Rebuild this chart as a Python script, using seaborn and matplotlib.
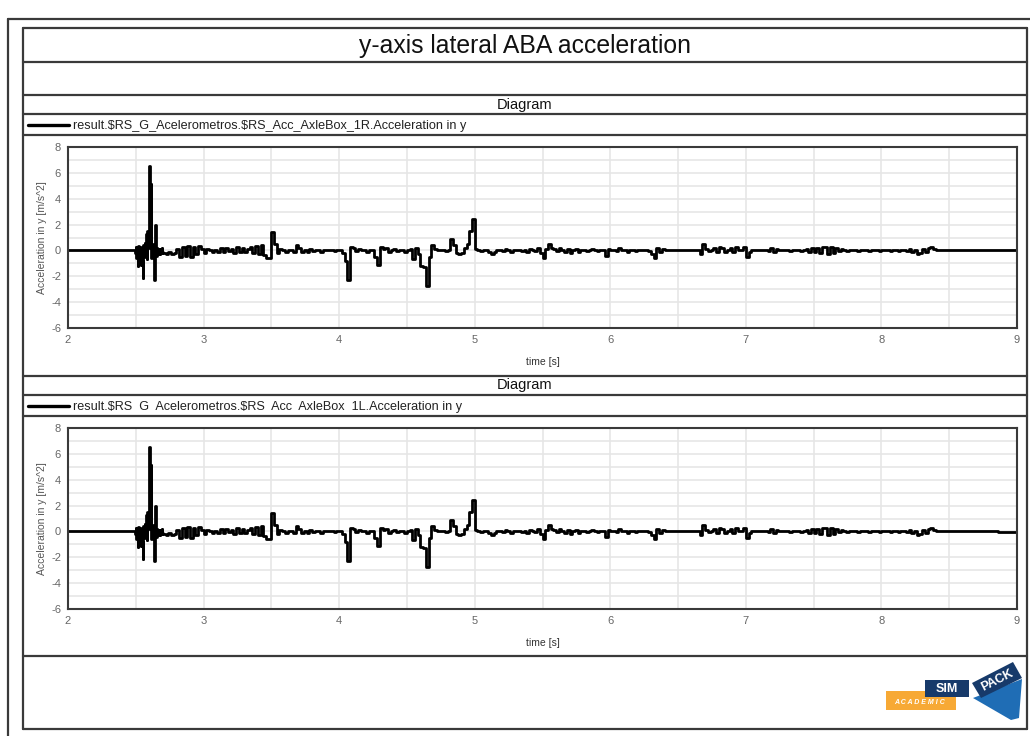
import numpy as np
import pandas as pd
import matplotlib
matplotlib.use("Agg")
import matplotlib.pyplot as plt
import seaborn as sns
from matplotlib.transforms import Affine2D
from matplotlib.patches import Rectangle, Polygon
from matplotlib.lines import Line2D
from matplotlib.ticker import MultipleLocator

# ---------------- data ----------------
title = "y-axis lateral ABA acceleration"
panel_title = "Diagram"
legend_labels = [
    r"result.\$RS_G_Acelerometros.\$RS_Acc_AxleBox_1R.Acceleration in y",
    r"result.\$RS  G  Acelerometros.\$RS  Acc  AxleBox  1L.Acceleration in y",
]
x_label = "time [s]"
y_label = "Acceleration in y [m/s^2]"
x_ticks = [2, 3, 4, 5, 6, 7, 8, 9]
y_ticks = [-6, -4, -2, 0, 2, 4, 6, 8]

# quiet lead-in
lead_t = [2.0]
lead_v = [0.0]

# initial burst, sampled every 0.005 s starting at 2.49 s
burst_t0, burst_dt = 2.49, 0.005
burst_vals = [
    0.0, -0.2, 0.3, -0.6, 0.2, -1.2, 0.35, -0.9, 0.3, -1.1,
    -0.3, -0.8, -2.1, 0.4, -0.4, 0.6, -0.5, 1.3, -0.7, 1.5,
    0.2, 1.0, 6.5, 0.5, 5.1, -0.6, 0.5, -0.4, 0.3, -2.3,
    0.1, 2.0, -0.4, 0.2, -0.3, 0.1, -0.2, -0.3, 0.1, -0.2,
    0.15, -0.1,
]

# remaining response, sampled every 0.02 s starting at 2.70 s
noise_t0, noise_dt = 2.70, 0.02
noise_vals = [
    -0.2, -0.3, -0.1, -0.3, -0.2, 0.1, -0.5, 0.3, -0.4, 0.35,     # 2.70
    -0.5, 0.3, -0.3, 0.35, 0.1, -0.2, 0.1, 0.0, -0.1, 0.05,       # 2.90
    -0.1, 0.15, -0.15, 0.2, -0.05, 0.1, -0.2, 0.25, -0.1, 0.2,    # 3.10
    -0.15, 0.1, 0.3, -0.2, 0.35, -0.3, 0.4, -0.35, -0.6, -0.55,   # 3.30
    1.4, 0.5, -0.2, 0.1, 0.0, -0.1, 0.05, 0.0, -0.1, 0.45,        # 3.50
    0.2, -0.1, 0.05, -0.15, 0.1, -0.05, 0.0, 0.05, -0.1, 0.0,     # 3.70
    0.05, 0.0, 0.0, -0.05, 0.05, 0.0, -0.2, -0.8, -2.3, 0.3,      # 3.90
    0.15, -0.05, 0.1, 0.0, 0.05, -0.1, 0.05, 0.0, -0.5, -1.1,     # 4.10
    0.3, 0.1, 0.2, -0.1, 0.05, 0.1, -0.05, 0.0, 0.05, -0.1,       # 4.30
    0.0, 0.1, -0.7, 0.2, -0.3, -1.2, -1.3, -2.75, -0.5, 0.4,      # 4.50
    0.1, 0.0, 0.05, 0.0, -0.05, 0.0, 0.9, 0.4, -0.2, -0.3,        # 4.70
    -0.2, 0.2, 0.5, 1.5, 2.4, 0.1, 0.0, -0.05, 0.05, 0.0,         # 4.90
    -0.1, -0.25, -0.1, 0.0, 0.05, -0.05, 0.1, 0.0, -0.1, 0.05,    # 5.10
    0.0, 0.0, -0.05, 0.05, -0.1, 0.1, 0.0, -0.05, 0.15, -0.2,     # 5.30
    -0.55, 0.1, 0.5, 0.2, 0.1, -0.05, 0.15, 0.0, -0.1, 0.1,       # 5.50
    -0.2, 0.05, 0.1, -0.1, 0.0, 0.05, -0.05, 0.0, 0.1, 0.0,       # 5.70
    -0.05, 0.0, 0.05, -0.4, 0.1, 0.0, 0.0, -0.05, 0.15, 0.0,      # 5.90
    0.05, -0.1, 0.0, 0.05, -0.05, 0.0, 0.0, 0.05, 0.0, -0.05,     # 6.10
    -0.3, -0.6, 0.2, -0.1, 0.1, 0.0, 0.0, 0.0, 0.0, 0.0,          # 6.30
    0.0, 0.0, 0.0, 0.0, 0.0, 0.0, 0.0, 0.0, -0.3, 0.5,            # 6.50
    0.1, -0.05, 0.05, 0.2, -0.1, 0.25, 0.15, -0.1, 0.0, 0.2,      # 6.70
    -0.15, 0.3, 0.0, 0.05, 0.3, -0.5, -0.15, 0.0, 0.05, 0.0,      # 6.90
    0.0, 0.05, 0.0, -0.05, 0.2, -0.15, 0.1, 0.0, 0.0, 0.05,       # 7.10
    0.0, -0.05, 0.0, 0.0, 0.05, -0.05, 0.0, 0.1, -0.1, 0.15,      # 7.30
    -0.1, 0.2, -0.2, 0.25, 0.3, -0.25, 0.3, -0.2, 0.15, -0.05,    # 7.50
    0.1, 0.0, -0.05, 0.05, 0.0, 0.0, -0.05, 0.0, 0.05, 0.0,       # 7.70
    -0.05, 0.0, 0.0, 0.0, -0.05, 0.0, 0.05, 0.0, -0.05, 0.0,      # 7.90
    0.05, -0.05, 0.0, 0.05, -0.05, 0.1, -0.1, 0.05, -0.25, -0.2,  # 8.10
    0.1, -0.1, 0.15, 0.3, 0.1, 0.0, 0.0,                          # 8.30
]

# quiet tails (the 1L channel shows a slight offset near the end)
tail_1R_t = [9.0]
tail_1R_v = [0.0]
tail_1L_t = [8.84, 8.86, 9.0]
tail_1L_v = [0.0, -0.07, -0.07]


def build_series(tail_t, tail_v):
    bt = [burst_t0 + burst_dt * i for i in range(len(burst_vals))]
    nt = [noise_t0 + noise_dt * i for i in range(len(noise_vals))]
    t = lead_t + bt + nt + tail_t
    v = lead_v + burst_vals + noise_vals + tail_v
    return pd.DataFrame({"time": t, "acc": v})


series = [build_series(tail_1R_t, tail_1R_v), build_series(tail_1L_t, tail_1L_v)]

# ---------------- figure ----------------
sns.set_style("white")
plt.rcParams["font.family"] = ["Liberation Sans", "DejaVu Sans"]
plt.rcParams["axes.unicode_minus"] = False

W, H = 1030, 736
fig = plt.figure(figsize=(W / 100, H / 100), dpi=100)
fig.patch.set_facecolor("white")
# pixel transform with origin at the top-left corner
PX = Affine2D().scale(1.0 / W, -1.0 / H).translate(0, 1) + fig.transFigure

frame_col = "#3a3a3a"


def hline(x0, x1, y, lw=1.6, col=frame_col):
    fig.add_artist(Line2D([x0, x1], [y, y], transform=PX, color=col, lw=lw))


def vline(x, y0, y1, lw=1.6, col=frame_col):
    fig.add_artist(Line2D([x, x], [y0, y1], transform=PX, color=col, lw=lw))


# outer page frame
hline(8, 1030, 19)
vline(8, 19, 736)

# inner boxes
L, R = 23, 1027
for y in [28, 62, 95, 114, 135, 376, 395, 416, 656, 729]:
    hline(L, R, y)
vline(L, 28, 729)
vline(R, 28, 729)

fig.text(525 / W, 1 - 45.5 / H, title, ha="center", va="center", fontsize=17.8, color="#111")

for row_y, leg_y, label in [(104.5, 124.5, legend_labels[0]), (385.5, 405.5, legend_labels[1])]:
    fig.text(525 / W, 1 - row_y / H, panel_title, ha="center", va="center", fontsize=10.5, color="#111")
    fig.add_artist(Line2D([28, 69], [leg_y, leg_y], transform=PX, color="black", lw=2.4))
    fig.text(73 / W, 1 - (leg_y + 1.5) / H, label, ha="left", va="center", fontsize=9.1, color="#222")

# axes
ax_left, ax_right = 68, 1017
axes_rows = [(147, 328), (428, 609)]
for (top, bot), df in zip(axes_rows, series):
    ax = fig.add_axes([ax_left / W, 1 - bot / H, (ax_right - ax_left) / W, (bot - top) / H])
    sns.lineplot(data=df, x="time", y="acc", ax=ax, color="black", lw=2.0,
                 estimator=None, sort=False, legend=False, drawstyle="steps-post")
    ax.set_xlim(2, 9)
    ax.set_ylim(-6, 8)
    ax.set_xticks(x_ticks)
    ax.set_yticks(y_ticks)
    ax.xaxis.set_minor_locator(MultipleLocator(0.5))
    ax.yaxis.set_minor_locator(MultipleLocator(1))
    ax.grid(True, which="both", color="#e6e6e6", lw=1.2)
    ax.set_axisbelow(True)
    for s in ax.spines.values():
        s.set_color(frame_col)
        s.set_linewidth(1.5)
    ax.tick_params(which="both", direction="out", colors=frame_col, labelcolor="#666",
                   labelsize=8, length=4, width=1, pad=1)
    ax.tick_params(which="minor", length=3)
    ax.set_xlabel(x_label, fontsize=7.5, color="#333", labelpad=9)
    ax.set_ylabel(y_label, fontsize=7.5, color="#555", labelpad=3)

# SIMPACK ACADEMIC logo
fig.add_artist(Rectangle((886, 691), 70, 19, transform=PX, color="#f7a935", lw=0))
fig.text(920 / W, 1 - 703 / H, "A C A D E M I C", ha="center", va="center", fontsize=5,
         color="white", style="italic", fontweight="bold")
fig.add_artist(Rectangle((925, 680), 44, 17, transform=PX, color="#173a6a", lw=0))
fig.text(947 / W, 1 - 689 / H, "SIM", ha="center", va="center", fontsize=9,
         color="white", fontweight="bold")
fig.add_artist(Polygon([(973, 698), (1022, 679), (1019, 718), (1011, 720)], closed=True,
                       transform=PX, color="#1f6db5", lw=0))
fig.add_artist(Polygon([(972, 683), (1013, 662), (1022, 678), (981, 698)], closed=True,
                       transform=PX, color="#173a6a", lw=0))
fig.text(997 / W, 1 - 680 / H, "PACK", ha="center", va="center", fontsize=9,
         color="white", fontweight="bold", rotation=27)

fig.savefig("out.png", dpi=100, facecolor="white")
